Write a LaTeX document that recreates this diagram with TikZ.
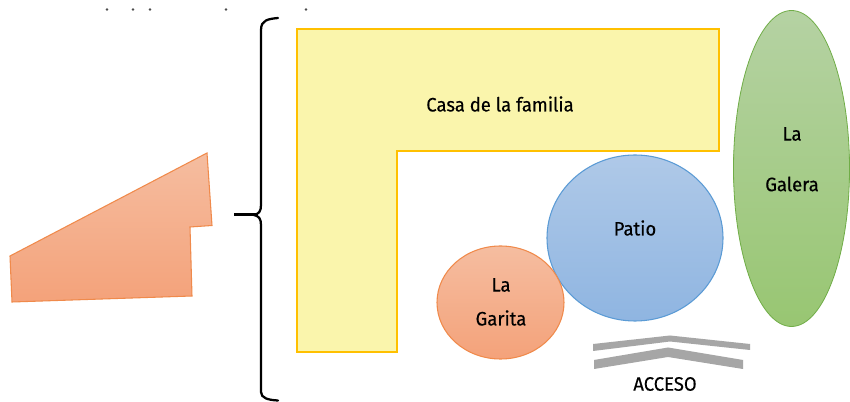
\documentclass[tikz,border=0pt]{standalone}
\usepackage{fontspec}
\setmainfont{Fira Sans}[FakeStretch=0.95]
\definecolor{ylf}{HTML}{FAF5AC}
\definecolor{yld}{HTML}{FFC000}
\definecolor{ord}{HTML}{F08A4B}
\definecolor{ortop}{HTML}{F5BDA0}
\definecolor{orbot}{HTML}{F4A27A}
\definecolor{grd}{HTML}{70AD47}
\definecolor{grtop}{HTML}{B5D2A3}
\definecolor{grbot}{HTML}{98C672}
\definecolor{bld}{HTML}{5B9BD5}
\definecolor{bltop}{HTML}{AFC9E8}
\definecolor{blbot}{HTML}{8FB5E1}
\tikzset{
  x=0.75pt,y=-0.75pt,
  lbl/.style={font=\fontsize{14.6pt}{16pt}\selectfont\addfontfeature{FakeBold=0.35},text=black,inner sep=0pt},
  orshape/.style={draw=ord,line width=0.8pt,top color=ortop,bottom color=orbot},
  brace/.style={draw=black,line width=1.7pt,line cap=round},
  road/.style={fill=black!35,draw=none},
  speck/.style={fill=black!70,draw=none}
}
\begin{document}
\begin{tikzpicture}
\useasboundingbox (0,0) rectangle (850,402);
\fill[white] (0,0) rectangle (850,402);
% specks
\foreach \xx in {107,133,150,226,306} \fill[speck] (\xx,9.5) circle (1.3);
% left shape
\path[orshape] (207,153) -- (212,225.5) -- (190,227) -- (192,296) -- (12,302) -- (10,256) -- cycle;
% brace
\draw[brace] (278,18) .. controls (268,19) and (261,20) .. (261,30) -- (261,205) .. controls (261,211) and (259,214) .. (254,215) .. controls (259,216) and (261,219) .. (261,225) -- (261,392) .. controls (261,398) and (268,400) .. (278,400.5);
\draw[brace,line cap=butt] (234,214.5) -- (256,214.5);
% house
\path[draw=yld,line width=1.6pt,fill=ylf] (297,29) -- (719,29) -- (719,151) -- (397,151) -- (397,352) -- (297,352) -- cycle;
\node[lbl] (casa) at (500,104) {Casa de la familia};
% galera
\path[draw=grd,line width=0.6pt,top color=grtop,bottom color=grbot] (791.5,168.5) ellipse [x radius=58,y radius=158];
\node[lbl] (la1) at (792,134) {La};
\node[lbl] (galera) at (792,184) {Galera};
% patio
\path[draw=bld,line width=0.8pt,top color=bltop,bottom color=blbot] (635,238) ellipse [x radius=88,y radius=83];
\node[lbl] (patio) at (635,228) {Patio};
% garita
\path[orshape] (500.5,302.5) ellipse [x radius=63.5,y radius=56.5];
\node[lbl] (la2) at (501,285) {La};
\node[lbl] (garita) at (501,318) {Garita};
% access
\fill[road] (593,344) -- (670,335.5) -- (750,344) -- (750,350) -- (670,341.5) -- (593,351) -- cycle;
\fill[road] (594,360) -- (668,347.5) -- (743,360) -- (743,369) -- (668,357) -- (594,369) -- cycle;
\node[lbl] (acceso) at (665,384) {ACCESO};
\end{tikzpicture}
\end{document}
